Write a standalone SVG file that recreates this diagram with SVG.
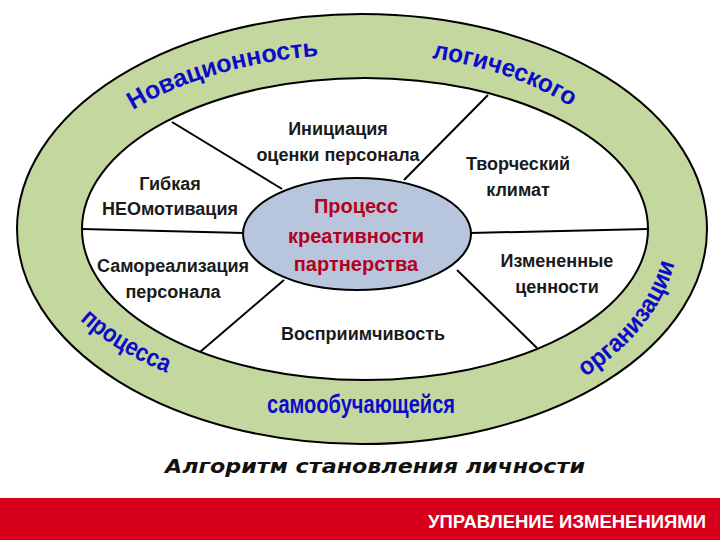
<svg xmlns="http://www.w3.org/2000/svg" width="720" height="540" viewBox="0 0 720 540">
<style>
.node{font-family:"Liberation Sans",Arial,sans-serif;font-weight:bold;font-size:18px;fill:#1a1a1a;text-anchor:middle}
.core{font-family:"Liberation Sans",Arial,sans-serif;font-weight:bold;font-size:20px;fill:#b5001e;text-anchor:middle}
.ring{font-family:"Liberation Sans",Arial,sans-serif;font-weight:bold;font-size:25px;fill:#0c0cc8}
.line{stroke:#000;stroke-width:2;fill:none}
</style>
<defs>
<path id="pNov" d="M 133 110 A 314 175 0 0 1 363 54"/>
<path id="pLog" d="M 432 58 A 289 176 0 0 1 652 229"/>
<path id="pPro" d="M 80 320 A 328 179 0 0 0 363 408"/>
<path id="pOrg" d="M 585 377 A 316 208 0 0 0 679 229"/>
</defs>
<rect width="720" height="540" fill="#fff"/>
<g id="ring">
<ellipse cx="362" cy="229" rx="345" ry="215" fill="#c4d79e" stroke="#000" stroke-width="2"/>
<ellipse cx="365" cy="229" rx="283" ry="151" fill="#fff" stroke="#000" stroke-width="2"/>
<text class="ring"><textPath href="#pNov" textLength="195" lengthAdjust="spacingAndGlyphs">Новационность</textPath></text>
<text class="ring"><textPath href="#pLog" textLength="148" lengthAdjust="spacingAndGlyphs">логического</textPath></text>
<text class="ring"><textPath href="#pPro" textLength="102" lengthAdjust="spacingAndGlyphs">процесса</textPath></text>
<text class="ring"><textPath href="#pOrg" textLength="148" lengthAdjust="spacingAndGlyphs">организации</textPath></text>
<text class="ring" x="267" y="413" font-size="23" textLength="188" lengthAdjust="spacingAndGlyphs">самообучающейся</text>
</g>
<g id="connectors">
<line class="line" x1="172" y1="122" x2="282" y2="189"/>
<line class="line" x1="82" y1="229" x2="244" y2="233"/>
<line class="line" x1="200" y1="352" x2="284" y2="280"/>
<line class="line" x1="488" y1="95" x2="404" y2="180"/>
<line class="line" x1="470" y1="233" x2="648" y2="229"/>
<line class="line" x1="457" y1="270" x2="537" y2="348"/>
</g>
<g id="center">
<ellipse cx="357" cy="234" rx="114" ry="56" fill="#b7c6dc" stroke="#000" stroke-width="2"/>
<text class="core" x="356" y="213">Процесс</text>
<text class="core" x="356" y="243">креативности</text>
<text class="core" x="356" y="271">партнерства</text>
</g>
<g id="n-init"><text class="node" x="338" y="135">Инициация</text><text class="node" x="338" y="161">оценки персонала</text></g>
<g id="n-flex"><text class="node" x="170" y="190">Гибкая</text><text class="node" x="170" y="215">НЕОмотивация</text></g>
<g id="n-climate"><text class="node" x="518" y="170">Творческий</text><text class="node" x="518" y="196">климат</text></g>
<g id="n-self"><text class="node" x="173" y="272">Самореализация</text><text class="node" x="173" y="298">персонала</text></g>
<g id="n-values"><text class="node" x="557" y="267">Измененные</text><text class="node" x="557" y="293">ценности</text></g>
<g id="n-recept"><text class="node" x="363" y="340">Восприимчивость</text></g>
<text x="375" y="473" text-anchor="middle" font-family="DejaVu Sans,Verdana,sans-serif" font-weight="bold" font-style="italic" font-size="20" fill="#111" textLength="420" lengthAdjust="spacingAndGlyphs">Алгоритм становления личности</text>
<rect x="0" y="498" width="720" height="42" fill="#d6001c"/>
<text x="706" y="528" text-anchor="end" font-family="Liberation Sans,Arial,sans-serif" font-weight="bold" font-size="18" fill="#fff" textLength="278" lengthAdjust="spacingAndGlyphs">УПРАВЛЕНИЕ ИЗМЕНЕНИЯМИ</text>
</svg>
